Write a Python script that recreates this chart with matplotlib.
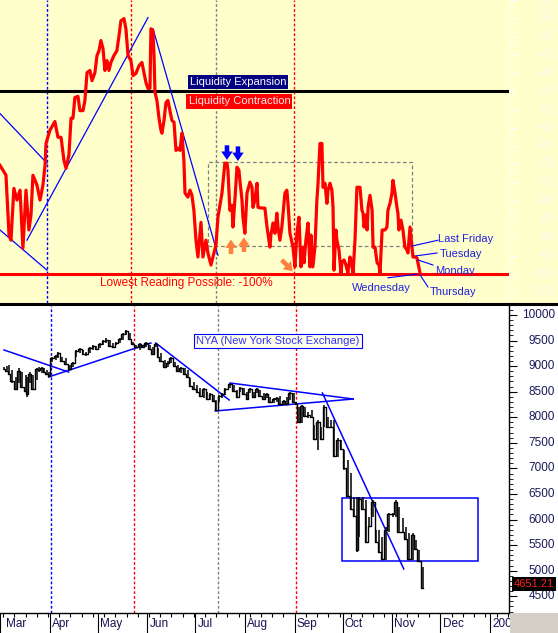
import numpy as np
import matplotlib
matplotlib.use("Agg")
import matplotlib.pyplot as plt
import matplotlib.dates as mdates
from matplotlib.patches import Rectangle
from matplotlib.transforms import blended_transform_factory
from datetime import datetime

plt.rcParams['font.family'] = ['Liberation Sans', 'DejaVu Sans']

# all x values are days counted from 1 Mar 2008
liq_day = [2.5, 4.3, 6.2, 8.1, 9.3, 11.1, 13.0, 14.9, 16.7, 18.6, 20.4, 21.7, 22.9, 25.4, 27.3, 29.1,
           30.4, 31.0, 33.4, 36.5, 38.4, 40.3, 42.1, 43.4, 45.2, 46.5, 47.7, 48.9, 50.8, 52.0, 53.9,
           55.1, 56.4, 58.2, 59.5, 61.3, 62.6, 63.8, 65.0, 66.3, 67.5, 68.8, 70.0, 71.2, 73.1, 74.9,
           76.2, 77.4, 79.3, 80.5, 81.8, 83.6, 84.9, 86.7, 88.6, 90.4, 91.7, 92.9, 94.1, 95.4, 96.0,
           97.2, 97.9, 98.5, 99.7, 101.0, 102.2, 102.8, 104.1, 105.3, 106.5, 107.8, 109.0, 110.3,
           111.5, 112.7, 114.0, 115.2, 116.4, 117.1, 118.9, 120.2, 121.4, 122.6, 123.9, 125.1, 127.0,
           128.2, 130.1, 131.3, 133.2, 134.4, 136.3, 137.5, 140.0, 141.8, 143.1, 143.7, 144.9, 146.2,
           146.8, 148.0, 149.3, 150.5, 151.1, 152.4, 153.0, 154.2, 155.5, 157.3, 158.6, 159.2, 160.4,
           161.7, 162.3, 164.8, 166.6, 167.9, 169.7, 170.3, 171.6, 172.8, 174.0, 174.7, 175.9, 177.1,
           179.0, 180.2, 180.9, 182.1, 184.0, 185.2, 186.4, 187.7, 188.9, 190.2, 190.8, 192.0, 193.3,
           194.5, 195.1, 196.3, 197.6, 198.8, 199.5, 200.7, 201.9, 202.6, 203.8, 205.0, 205.7, 206.9,
           208.1, 208.8, 209.4, 210.6, 211.2, 212.5, 213.7, 214.3, 215.6, 216.8, 218.0, 219.3, 220.5,
           221.2, 222.4, 223.6, 225.5, 226.7, 227.4, 228.0, 229.2, 229.9, 230.5, 231.7, 233.0, 233.6,
           234.8, 236.1, 237.3, 237.9, 239.2, 241.0, 242.2, 242.8, 244.1, 245.3, 245.9, 247.2, 248.4,
           249.0, 249.6, 250.9, 252.1, 253.3, 254.6, 255.2, 256.5, 257.7, 258.3, 259.6, 260.8, 261.4,
           262.7]
liq_val = [-70.3, -71.6, -73.0, -89.4, -90.8, -76.6, -79.8, -77.1, -93.0, -77.1, -88.0, -83.9, -73.0,
           -75.7, -79.8, -75.7, -70.3, -64.3, -60.7, -58.3, -62.6, -62.6, -68.9, -71.1, -67.5, -57.4,
           -57.4, -51.7, -51.4, -55.3, -55.3, -52.5, -44.9, -44.3, -47.1, -44.9, -40.2, -38.9, -36.1,
           -38.3, -44.3, -41.6, -44.3, -42.1, -40.2, -38.9, -34.8, -30.7, -30.1, -32.9, -40.2, -41.6,
           -45.7, -45.1, -43.0, -42.1, -44.9, -47.6, -49.2, -49.2, -32.9, -33.4, -40.2, -50.3, -52.5,
           -57.4, -60.7, -61.5, -58.0, -53.1, -52.5, -55.3, -58.0, -58.5, -66.2, -65.6, -66.2, -61.5,
           -68.9, -77.9, -79.0, -77.1, -78.5, -82.6, -90.8, -95.4, -85.9, -95.4, -90.8, -94.3, -97.6,
           -95.4, -92.1, -84.5, -77.9, -69.7, -69.7, -71.6, -82.6, -81.2, -87.2, -79.8, -70.8, -71.6,
           -74.4, -79.8, -84.5, -88.9, -77.9, -74.9, -76.3, -81.8, -79.8, -75.2, -81.8, -82.0, -82.0,
           -87.2, -92.7, -89.4, -86.1, -88.9, -83.4, -87.2, -90.8, -87.2, -77.9, -77.1, -80.7, -88.9,
           -92.7, -98.1, -88.9, -84.5, -98.1, -92.7, -97.0, -90.8, -86.1, -98.1, -89.4, -98.1, -92.7,
           -79.8, -75.2, -64.3, -64.3, -76.3, -75.2, -80.7, -77.1, -75.2, -77.1, -81.8, -99.0, -88.0,
           -90.8, -93.5, -99.8, -96.8, -96.2, -97.6, -99.8, -95.4, -97.6, -99.8, -90.8, -76.3, -76.3,
           -82.6, -83.4, -87.2, -83.9, -88.0, -81.8, -78.5, -82.6, -92.7, -92.7, -97.0, -97.6, -99.8,
           -88.0, -88.0, -87.2, -82.6, -80.7, -77.9, -74.4, -77.9, -81.8, -83.4, -88.0, -85.3, -88.0,
           -92.7, -93.5, -94.3, -87.2, -92.7, -95.4, -95.4, -95.7, -97.0, -99.8]

# NYA price bars (high / low / close) sampled off the chart
nya_day = [2.5, 4.3, 5.6, 7.4, 9.9, 11.8, 13.6, 16.1, 16.7, 18.6, 20.4, 22.9, 24.2, 26.0, 27.3, 29.1,
           30.4, 32.2, 34.7, 36.5, 38.4, 40.9, 43.4, 45.8, 47.7, 50.2, 52.0, 53.9, 56.4, 58.2, 60.1,
           62.6, 64.4, 66.3, 68.8, 70.6, 72.5, 74.9, 76.8, 78.7, 81.2, 83.0, 84.9, 87.3, 89.2, 91.1,
           93.5, 95.4, 97.2, 98.5, 100.3, 102.8, 104.7, 106.5, 109.0, 110.9, 112.7, 115.2, 117.1,
           118.9, 121.4, 123.3, 125.1, 127.6, 129.5, 131.3, 133.8, 135.0, 136.9, 138.8, 140.6, 143.7,
           146.2, 148.0, 149.9, 152.4, 154.2, 156.1, 158.6, 160.4, 162.3, 164.8, 166.6, 168.5, 171.0,
           172.8, 174.7, 177.1, 179.0, 180.9, 183.3, 184.6, 186.4, 188.3, 190.2, 192.6, 194.5, 196.3,
           198.8, 200.7, 202.6, 205.0, 206.9, 208.8, 211.2, 213.1, 214.9, 217.4, 219.3, 221.2, 223.0,
           224.2, 226.7, 228.6, 230.5, 232.9, 234.8, 236.7, 238.5, 241.0, 242.8, 245.3, 247.2, 249.0,
           251.5, 253.3, 255.2, 257.7, 259.6, 261.4, 263.9]
nya_high = [8983, 9000, 9022, 8924, 8788, 8964, 8885, 8827, 8788, 8885, 8827, 8964, 8983, 8983, 8964,
            8924, 8885, 9179, 9218, 9276, 9179, 9159, 9022, 9081, 9316, 9355, 9316, 9276, 9374, 9413,
            9395, 9452, 9511, 9550, 9511, 9452, 9472, 9550, 9648, 9707, 9648, 9472, 9413, 9452, 9413,
            9472, 9413, 9374, 9452, 9355, 9257, 9120, 9100, 9179, 9081, 9022, 8983, 8964, 8924, 8768,
            8690, 8631, 8572, 8572, 8494, 8475, 8436, 8338, 8436, 8475, 8572, 8670, 8631, 8533, 8592,
            8572, 8494, 8572, 8494, 8572, 8533, 8475, 8475, 8397, 8377, 8397, 8416, 8338, 8397, 8494,
            8475, 8299, 8201, 8240, 8201, 8103, 8142, 7849, 7947, 7810, 8240, 8005, 7947, 7947, 7595,
            7556, 7360, 7164, 6910, 6441, 6441, 6441, 6441, 6382, 6050, 6382, 5796, 5796, 5659, 5854,
            6128, 6128, 6382, 6245, 6030, 5854, 5737, 5737, 5600, 5405, 5072]
nya_low = [8924, 8885, 8827, 8670, 8533, 8670, 8572, 8494, 8397, 8670, 8533, 8729, 8885, 8866, 8866,
           8827, 8788, 9081, 9120, 9159, 9081, 9022, 8924, 8983, 9179, 9257, 9218, 9200, 9257, 9316,
           9316, 9355, 9413, 9452, 9374, 9355, 9413, 9452, 9511, 9609, 9511, 9413, 9355, 9316, 9355,
           9374, 9316, 9218, 9374, 9159, 9081, 8964, 8983, 9061, 8983, 8885, 8866, 8827, 8768, 8592,
           8533, 8475, 8397, 8377, 8338, 8338, 8299, 8123, 8299, 8377, 8436, 8572, 8494, 8377, 8494,
           8436, 8338, 8475, 8377, 8475, 8397, 8338, 8377, 8279, 8279, 8299, 8240, 8240, 8240, 8338,
           8279, 8240, 7888, 7888, 8005, 7986, 7986, 7556, 7360, 7556, 7810, 7790, 7790, 7223, 7223,
           7360, 6969, 6441, 6187, 6050, 5365, 5659, 6187, 5541, 5854, 6050, 5541, 5346, 5209, 5209,
           5756, 6050, 6050, 5737, 5737, 5600, 5209, 5209, 5405, 5170, 4651]
nya_close = [8950, 8900, 8850, 8700, 8560, 8900, 8600, 8520, 8450, 8850, 8560, 8940, 8920, 8960, 8890,
             8850, 8800, 9150, 9190, 9250, 9100, 9040, 8950, 9060, 9290, 9330, 9240, 9230, 9350, 9390,
             9340, 9430, 9490, 9520, 9400, 9380, 9450, 9530, 9620, 9690, 9530, 9430, 9380, 9430, 9380,
             9450, 9340, 9240, 9440, 9180, 9100, 8990, 9070, 9150, 9000, 8900, 8960, 8850, 8790, 8610,
             8550, 8500, 8420, 8550, 8360, 8450, 8320, 8150, 8410, 8460, 8550, 8650, 8510, 8400, 8570,
             8450, 8360, 8550, 8400, 8550, 8420, 8350, 8450, 8300, 8350, 8380, 8260, 8320, 8260, 8470,
             8300, 8260, 7900, 8220, 8020, 8050, 8000, 7580, 7900, 7580, 8200, 7810, 7800, 7250, 7550,
             7380, 7000, 6460, 6200, 6070, 5400, 6400, 6200, 5560, 5880, 6350, 5560, 5360, 5230, 5800,
             6100, 6100, 6350, 5750, 5750, 5620, 5230, 5700, 5420, 5190, 4651.21]

# hand drawn lines: (day0, val0, day1, val1)
top_trend = [(2.5, -56.1, 31.6, -69.7), (2.5, -88.0, 31.6, -99.0),
             (19.2, -90.8, 94.2, -29.8), (97.3, -32.9, 137.5, -94.9)]
bot_trend = [(2.5, 9316, 42.8, 8885), (30.4, 8788, 94.2, 9452), (97.3, 9452, 143.1, 8338),
             (143.7, 8670, 220.5, 8357), (134.4, 8123, 220.5, 8357), (201.3, 8475, 252.1, 5033)]
vline_day = [31.6, 83.6, 136.3, 184.6]
vline_col = ['#0000ff', '#ff0000', '#808080', '#ff0000']

# signal arrows: (day0, val0, day1, val1) tail -> tip
blue_arrows = [(143.1, -64.8, 143.1, -68.8), (149.9, -65.1, 149.9, -69.1)]
orange_arrows = [(145.6, -94.6, 145.6, -90.6), (153.6, -94.0, 153.6, -90.0),
                 (177.0, -96.2, 183.8, -99.3)]

day_labels = ['Last Friday', 'Tuesday', 'Monday', 'Wednesday', 'Thursday']
day_label_pos = [(273.8, -90.5), (275.0, -94.6), (271.9, -99.2), (238.5, -103.9), (268.8, -105.0)]
day_label_ptr = [(257.7, -92.4, 273.8, -90.8), (260.2, -95.1, 273.2, -94.3),
                 (261.4, -96.2, 270.7, -97.6), (242.8, -101.1, 260.8, -100.1),
                 (262.7, -100.3, 267.6, -103.6)]

month_names = ['Mar', 'Apr', 'May', 'Jun', 'Jul', 'Aug', 'Sep', 'Oct', 'Nov', 'Dec', '2009']
month_starts = [datetime(2008, m, 1) for m in range(3, 13)] + [datetime(2009, 1, 1)]

base = mdates.date2num(datetime(2008, 3, 1))


def d(x):
    return base + np.asarray(x, dtype=float)


W, H = 558, 633
fig = plt.figure(figsize=(W / 100, H / 100), dpi=100)
fig.patch.set_facecolor('white')

# yellow band behind the top panel, grey corner, black separator
fig.patches.append(Rectangle((0, 1 - 303 / H), 1, 303 / H, transform=fig.transFigure,
                             facecolor='#ffffcc', edgecolor='none', zorder=-5))
fig.patches.append(Rectangle((510 / W, 0), 1, 20 / H, transform=fig.transFigure,
                             facecolor='#d4d0c8', edgecolor='none', zorder=10))
fig.lines.append(plt.Line2D([0, 1], [1 - 304 / H, 1 - 304 / H], transform=fig.transFigure,
                            color='black', lw=2.2, zorder=10))

xl = (d(2.5), d(317.8))

# ---------------- top panel ----------------
ax1 = fig.add_axes([0, 1 - 303 / H, 509 / W, 303 / H])
ax1.set_facecolor('#ffffcc')
ax1.set_xlim(*xl)
ax1.set_ylim(-108.0, -25.2)
for s in ax1.spines.values():
    s.set_visible(False)
ax1.xaxis.set_visible(False)
ax1.yaxis.tick_right()
ax1.set_yticks(np.arange(-105, -24, 5))
ax1.set_yticks(np.arange(-108, -25, 1), minor=True)
ax1.tick_params(axis='y', which='major', length=6, color='white', labelright=False)
ax1.tick_params(axis='y', which='minor', length=3, color='white')
tr1 = blended_transform_factory(fig.transFigure, ax1.transData)
for v in range(-105, -24, 5):
    ax1.text(555 / W, min(v, -26.6), str(v), transform=tr1, ha='right', va='center',
             fontsize=8.5, color='#fbfbee', clip_on=False)

for x, c in zip(vline_day, vline_col):
    ax1.axvline(d(x), color=c, lw=1, ls=(0, (2, 1.5)), zorder=1)

ax1.axhline(-50, color='black', lw=2.2, zorder=2)
ax1.axhline(-100, color='#ff0000', lw=2.2, zorder=2)
ax1.add_patch(Rectangle((d(131.3), -92.4), 257.7 - 131.3, 23.0, facecolor='none',
                        edgecolor='#808080', lw=0.9, ls=(0, (3, 2)), zorder=2))
for x0, y0, x1, y1 in top_trend:
    ax1.plot(d([x0, x1]), [y0, y1], color='#0000ff', lw=0.9, zorder=3)
ax1.plot(d(liq_day), liq_val, color='#ff0000', lw=2.3, zorder=4)

ax1.text(d(149.9), -47.5, 'Liquidity Expansion', color='white', fontsize=8, ha='center',
         va='center', zorder=6, bbox=dict(facecolor='#000080', edgecolor='none', pad=1.5))
ax1.text(d(150.8), -52.8, 'Liquidity Contraction', color='#ffe8e8', fontsize=8, ha='center',
         va='center', zorder=6, bbox=dict(facecolor='#ff0000', edgecolor='none', pad=1.5))
ax1.text(d(117.7), -102.6, 'Lowest Reading Possible: -100%', color='#ff0000', fontsize=8.5,
         ha='center', va='center')

for lab, (tx, ty), (px0, py0, px1, py1) in zip(day_labels, day_label_pos, day_label_ptr):
    ax1.plot(d([px0, px1]), [py0, py1], color='#0000ff', lw=0.8, zorder=5)
    ax1.text(d(tx), ty, lab, color='#2222dd', fontsize=8, ha='center' if lab == 'Wednesday' else 'left',
             va='center', zorder=6)

arrow_style = 'simple,head_length=0.55,head_width=0.75,tail_width=0.3'
for arrows, col in ((blue_arrows, '#0000ff'), (orange_arrows, '#ff7f3f')):
    for x0, y0, x1, y1 in arrows:
        ax1.annotate('', xy=(d(x1), y1), xytext=(d(x0), y0), zorder=6,
                     arrowprops=dict(arrowstyle=arrow_style, color=col, lw=0,
                                     mutation_scale=11, shrinkA=0, shrinkB=0))

# ---------------- bottom panel ----------------
ax2 = fig.add_axes([0, 20 / H, 509 / W, 307 / H])
ax2.set_facecolor('white')
ax2.set_xlim(*xl)
ax2.set_ylim(4172, 10176)
for k in ('left', 'top'):
    ax2.spines[k].set_visible(False)
ax2.spines['right'].set_linewidth(1)
ax2.spines['bottom'].set_linewidth(1)
ax2.yaxis.tick_right()
ax2.set_yticks(np.arange(4500, 10001, 500))
ax2.set_yticks(np.arange(4200, 10200, 100), minor=True)
ax2.tick_params(axis='y', which='major', length=6, labelright=False)
ax2.tick_params(axis='y', which='minor', length=3)
tr2 = blended_transform_factory(fig.transFigure, ax2.transData)
for v in range(4500, 10001, 500):
    ax2.text(555 / W, v, str(v), transform=tr2, ha='right', va='center',
             fontsize=8.5, color='#1a1a5a', clip_on=False)
fig.text(534 / W, 1 - 584 / H, '4651.21', color='#ff2020', fontsize=8, ha='center', va='center',
         zorder=11, bbox=dict(facecolor='black', edgecolor='none', pad=1.2))

# x axis: month separators, weekly minor ticks, labels after each month start
ax2.set_xticks(mdates.date2num(month_starts))
ax2.xaxis.set_minor_locator(mdates.WeekdayLocator(byweekday=mdates.MO))
ax2.tick_params(axis='x', which='major', length=14.5, width=0.8, labelbottom=False)
ax2.tick_params(axis='x', which='minor', length=3, width=0.8)
trx = blended_transform_factory(ax2.transData, ax2.transAxes)
for name, m in zip(month_names, month_starts):
    x = max(mdates.date2num(m), xl[0]) + 1.3
    ax2.text(x, -0.035, name, transform=trx, ha='left', va='center', fontsize=8.5,
             color='#1a1050', clip_on=False)

for x, c in zip(vline_day, vline_col):
    ax2.axvline(d(x), color=c, lw=1, ls=(0, (2, 1.5)), zorder=1)

for x0, y0, x1, y1 in bot_trend:
    ax2.plot(d([x0, x1]), [y0, y1], color='#0000ff', lw=1.1, zorder=3)
ax2.add_patch(Rectangle((d(213.7), 5190), 298.6 - 213.7, 6422 - 5190, facecolor='none',
                        edgecolor='#0000ff', lw=1.1, zorder=3))

ax2.vlines(d(nya_day), nya_low, nya_high, color='black', lw=1.1, zorder=4)
ax2.step(d(nya_day), nya_close, where='mid', color='black', lw=1.0, zorder=4)

ax2.text(d(173.5), 9492, 'NYA (New York Stock Exchange)', color='#3333ff', fontsize=8,
         ha='center', va='center', zorder=6,
         bbox=dict(facecolor='#ffffe8', edgecolor='#0000ff', lw=0.8, pad=1.5))

fig.savefig('out.png', dpi=100)
